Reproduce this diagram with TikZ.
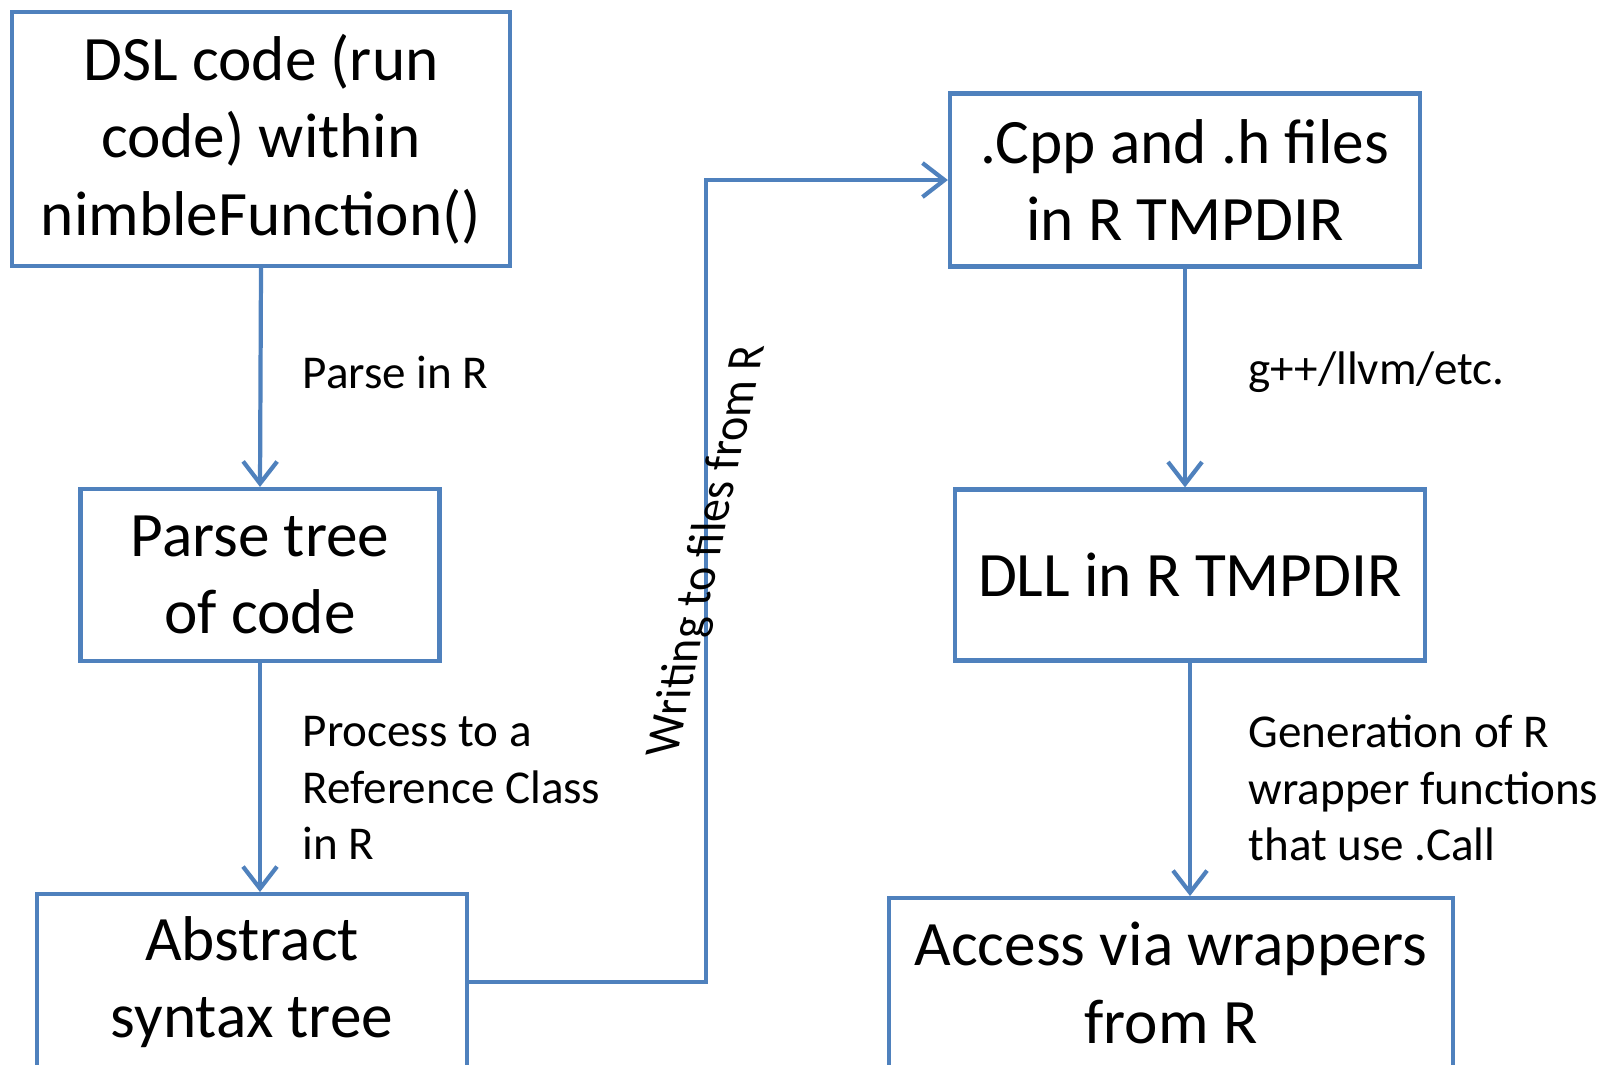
\documentclass[tikz,border=0pt]{standalone}
\usepackage{fontspec}
\setmainfont{Carlito}
\usepackage{tikz}
\usetikzlibrary{arrows.meta}
\usetikzlibrary{positioning}
\usetikzlibrary{calc}
\definecolor{nimbleblue}{RGB}{79,129,189}

\begin{document}
\begin{tikzpicture}[
    blk/.style={draw=nimbleblue, line width=1.2pt, align=center, inner sep=0pt, font=\fontsize{18}{22}\selectfont},
    boxtxt/.style={align=center, inner sep=0pt, font=\fontsize{18}{22}\selectfont},
    lbl/.style={align=left, inner sep=0pt, font=\fontsize{13.4}{16}\selectfont},
    conn/.style={draw=nimbleblue, line width=1.2pt, -{Straight Barb[length=2.2mm,width=3.4mm]}}
  ]
      \useasboundingbox (0,0) rectangle (16.12,-10.64);
      \clip (0,0) rectangle (16.12,-10.64);
      % left column
      \node[blk, minimum width=4.98cm, minimum height=2.54cm] (dsl)   at ( 2.61,-1.39) {DSL code (run\\code) within\\nimbleFunction()};
      \node[blk, minimum width=3.59cm, minimum height=1.72cm] (parse) at ( 2.60,-5.75) {Parse tree\\of code};
      \node[blk, minimum width=4.30cm, minimum height=2.40cm, anchor=north] (astframe) at (2.52,-8.92) {};
      \node[boxtxt] (ast) at (2.52,-9.82) {Abstract\\syntax tree};
      % right column
      \node[blk, minimum width=4.70cm, minimum height=1.73cm] (cpp)   at (11.85,-1.80) {.Cpp and .h files\\in R TMPDIR};
      \node[blk, minimum width=4.70cm, minimum height=1.71cm] (dll)   at (11.90,-5.75) {DLL in R TMPDIR};
      \node[blk, minimum width=5.64cm, minimum height=2.40cm, anchor=north] (accessframe) at (11.71,-8.96) {};
      \node[boxtxt] (access) at (11.71,-9.83) {Access via wrappers\\from R};
      % connectors
      \draw[conn] (dsl.south) -- (parse.north);
      \draw[conn] (parse.south) -- (parse.south |- astframe.north);
      \draw[conn] (ast -| astframe.east) -| ($(cpp.west)+(-2.42,0)$) -- (cpp.west);
      \draw[conn] (cpp.south) -- (cpp.south |- dll.north);
      \draw[conn] (dll.south) -- (dll.south |- accessframe.north);
      % labels
      \node[lbl, anchor=west] (lparse)   at ( 3.02,-3.72) {Parse in R};
      \node[lbl, anchor=west] (lprocess) at ( 3.02,-7.88) {Process to a\\Reference Class\\in R};
      \node[lbl, anchor=west] (lgpp)     at (12.48,-3.72) {g++/llvm/etc.};
      \node[lbl, anchor=west] (lgen)     at (12.48,-7.88) {Generation of R\\wrapper functions\\that use .Call};
      \begin{scope}[shift={(7.08,-5.50)}, cm={0.208,0.978,-1.05,0,(0,0)}]
        \node[lbl, transform shape] (lwrite) at (0,0) {Writing to files from R};
      \end{scope}
\end{tikzpicture}
\end{document}
